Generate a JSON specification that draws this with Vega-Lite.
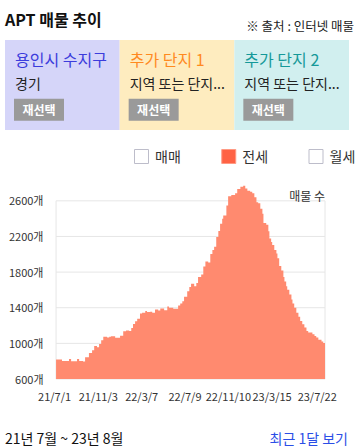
{
  "$schema": "https://vega.github.io/schema/vega-lite/v6.json",
  "padding": {"left": 5, "right": 0, "top": 0, "bottom": 0},
  "background": "white",
  "spacing": 0,
  "bounds": "flush",
  "config": {"font": "Noto Sans CJK KR", "view": {"stroke": null}, "axis": {"labelOverlap": false, "labelBound": false, "labelFlush": false}},
  "vconcat": [
    {
      "width": 349,
      "height": 40,
      "layer": [
        {
          "data": {"values": [{"pos": "left", "label": "APT 매물 추이"}]},
          "mark": {"type": "text", "align": "left", "baseline": "middle", "fontSize": 16, "fontWeight": "bold", "dy": 1, "color": "#111"},
          "encoding": {
            "x": {"field": "pos", "type": "nominal", "scale": {"type": "point", "domain": ["left", "right"], "padding": 0}, "axis": null},
            "text": {"field": "label"}
          }
        },
        {
          "data": {"values": [{"pos": "right", "label": "※ 출처 : 인터넷 매물"}]},
          "mark": {"type": "text", "align": "right", "baseline": "middle", "fontSize": 12.5, "dy": 6.5, "color": "#222"},
          "encoding": {
            "x": {"field": "pos", "type": "nominal", "scale": {"type": "point", "domain": ["left", "right"], "padding": 0}, "axis": null},
            "text": {"field": "label"}
          }
        }
      ]
    },
    {
      "width": 344,
      "height": 90,
      "data": {"values": [
        {"box": "용인시 수지구", "region": "경기"},
        {"box": "추가 단지 1", "region": "지역 또는 단지..."},
        {"box": "추가 단지 2", "region": "지역 또는 단지..."}
      ]},
      "layer": [
        {
          "mark": {"type": "rect"},
          "encoding": {
            "x": {"field": "box", "type": "nominal", "sort": null, "scale": {"type": "band", "paddingInner": 0, "paddingOuter": 0}, "axis": null},
            "color": {"field": "box", "type": "nominal", "sort": null, "scale": {"range": ["#d5d5f9", "#feecbf", "#d1efef"]}, "legend": null}
          }
        },
        {
          "mark": {"type": "text", "align": "left", "baseline": "middle", "dx": 10, "dy": 1, "fontSize": 16},
          "encoding": {
            "x": {"field": "box", "type": "nominal", "sort": null, "bandPosition": 0, "axis": null},
            "y": {"datum": "name", "type": "ordinal", "scale": {"type": "point", "domain": ["name", "region", "btn"], "padding": 0.818}, "axis": null},
            "text": {"field": "box"},
            "color": {"field": "box", "type": "nominal", "sort": null, "scale": {"range": ["#3c3cdc", "#ff8a1f", "#159999"]}, "legend": null}
          }
        },
        {
          "mark": {"type": "text", "align": "left", "baseline": "middle", "dx": 10, "dy": 0, "fontSize": 14, "color": "#222"},
          "encoding": {
            "x": {"field": "box", "type": "nominal", "sort": null, "bandPosition": 0, "axis": null},
            "y": {"datum": "region", "type": "ordinal", "axis": null},
            "text": {"field": "region"}
          }
        },
        {
          "mark": {"type": "point", "shape": "M-1,-0.44H1V0.44H-1Z", "filled": true, "size": 2500, "opacity": 1, "color": "#9a9a9a", "xOffset": 34},
          "encoding": {
            "x": {"field": "box", "type": "nominal", "sort": null, "bandPosition": 0, "axis": null},
            "y": {"datum": "btn", "type": "ordinal", "axis": null}
          }
        },
        {
          "mark": {"type": "text", "align": "center", "baseline": "middle", "dx": 34, "dy": 1, "fontSize": 12, "fontWeight": "bold", "color": "white"},
          "encoding": {
            "x": {"field": "box", "type": "nominal", "sort": null, "bandPosition": 0, "axis": null},
            "y": {"datum": "btn", "type": "ordinal", "axis": null},
            "text": {"value": "재선택"}
          }
        }
      ],
      "resolve": {"scale": {"color": "independent"}}
    },
    {
      "width": 349,
      "height": 53,
      "data": {"values": [{"kind": "매매"}, {"kind": "전세"}, {"kind": "월세"}]},
      "layer": [
        {
          "mark": {"type": "point", "shape": "square", "filled": true, "size": 196, "strokeWidth": 1, "opacity": 1},
          "encoding": {
            "x": {"field": "kind", "type": "nominal", "sort": null, "scale": {"type": "point", "padding": 1.983, "align": 0.7823}, "axis": null},
            "fill": {"field": "kind", "type": "nominal", "sort": null, "scale": {"range": ["#ffffff", "#ff6244", "#ffffff"]}, "legend": null},
            "stroke": {"field": "kind", "type": "nominal", "sort": null, "scale": {"range": ["#bdbdca", "#ff9a84", "#bdbdca"]}, "legend": null}
          }
        },
        {
          "mark": {"type": "text", "align": "left", "baseline": "middle", "dx": 13.5, "dy": 1, "fontSize": 14, "color": "#333"},
          "encoding": {
            "x": {"field": "kind", "type": "nominal", "sort": null, "axis": null},
            "text": {"field": "kind"}
          }
        }
      ]
    },
    {
      "width": 320,
      "height": 196,
      "encoding": {
        "x": {"type": "temporal",
          "scale": {"type": "utc", "domain": [{"year": 2021, "month": 2, "date": 5, "utc": true}, {"year": 2023, "month": 8, "date": 9, "utc": true}]},
          "axis": {"values": [
            {"year": 2021, "month": 7, "date": 1, "utc": true},
            {"year": 2021, "month": 11, "date": 3, "utc": true},
            {"year": 2022, "month": 3, "date": 7, "utc": true},
            {"year": 2022, "month": 7, "date": 9, "utc": true},
            {"year": 2022, "month": 11, "date": 10, "utc": true},
            {"year": 2023, "month": 3, "date": 15, "utc": true},
            {"year": 2023, "month": 7, "date": 22, "utc": true}
          ], "format": "%y/%-m/%-d", "ticks": false, "domain": false, "grid": false, "labelPadding": 12, "labelOffset": -2, "labelFontSize": 11, "labelColor": "#333", "title": null, "labelOverlap": false, "labelFlush": false, "labelBound": false}},
        "y": {"type": "quantitative", "scale": {"domain": [600, 2800], "nice": false, "zero": false},
          "axis": {"values": [600, 1000, 1400, 1800, 2200, 2600], "labelExpr": "datum.value + '개'", "offset": -51, "ticks": false, "domain": false, "grid": false, "labelPadding": 13, "labelOffset": 1, "labelFontSize": 11, "labelColor": "#333", "title": null, "labelOverlap": false, "labelBound": false, "labelFlush": false}}
      },
      "layer": [
        {
          "data": {"values": [{"tick": 600}, {"tick": 1000}, {"tick": 1400}, {"tick": 1800}, {"tick": 2200}, {"tick": 2600}]},
          "mark": {"type": "rule", "color": "#e6e6e6", "strokeWidth": 1},
          "encoding": {
            "y": {"field": "tick", "type": "quantitative"},
            "x": {"datum": {"year": 2021, "month": 7, "date": 1, "utc": true}, "type": "temporal"},
            "x2": {"datum": {"year": 2023, "month": 8, "date": 9, "utc": true}}
          }
        },
        {
          "data": {"values": [{"edge": "2021-07-01"}, {"edge": "2023-08-09"}]},
          "mark": {"type": "rule", "color": "#e6e6e6", "strokeWidth": 1},
          "encoding": {
            "x": {"field": "edge", "type": "temporal"},
            "y": {"datum": 600, "type": "quantitative"},
            "y2": {"datum": 2600}
          }
        },
        {
          "data": {"values": [
            {"date": "2021-07-01", "value": 820},
            {"date": "2021-07-18", "value": 803},
            {"date": "2021-08-07", "value": 825},
            {"date": "2021-08-13", "value": 800},
            {"date": "2021-08-30", "value": 825},
            {"date": "2021-09-05", "value": 803},
            {"date": "2021-09-16", "value": 796},
            {"date": "2021-09-22", "value": 845},
            {"date": "2021-10-03", "value": 892},
            {"date": "2021-10-12", "value": 922},
            {"date": "2021-10-18", "value": 970},
            {"date": "2021-10-26", "value": 955},
            {"date": "2021-11-01", "value": 992},
            {"date": "2021-11-07", "value": 1036},
            {"date": "2021-11-13", "value": 1073},
            {"date": "2021-11-24", "value": 1066},
            {"date": "2021-11-30", "value": 1073},
            {"date": "2021-12-05", "value": 1081},
            {"date": "2021-12-17", "value": 1062},
            {"date": "2021-12-31", "value": 1085},
            {"date": "2022-01-09", "value": 1137},
            {"date": "2022-01-17", "value": 1144},
            {"date": "2022-01-26", "value": 1140},
            {"date": "2022-02-01", "value": 1173},
            {"date": "2022-02-06", "value": 1218},
            {"date": "2022-02-12", "value": 1248},
            {"date": "2022-02-18", "value": 1277},
            {"date": "2022-02-26", "value": 1336},
            {"date": "2022-03-04", "value": 1344},
            {"date": "2022-03-13", "value": 1362},
            {"date": "2022-03-18", "value": 1351},
            {"date": "2022-03-27", "value": 1355},
            {"date": "2022-04-02", "value": 1344},
            {"date": "2022-04-10", "value": 1381},
            {"date": "2022-04-19", "value": 1370},
            {"date": "2022-04-25", "value": 1392},
            {"date": "2022-05-06", "value": 1373},
            {"date": "2022-05-15", "value": 1414},
            {"date": "2022-05-20", "value": 1400},
            {"date": "2022-06-01", "value": 1388},
            {"date": "2022-06-15", "value": 1425},
            {"date": "2022-06-21", "value": 1448},
            {"date": "2022-06-27", "value": 1473},
            {"date": "2022-07-02", "value": 1522},
            {"date": "2022-07-11", "value": 1584},
            {"date": "2022-07-17", "value": 1633},
            {"date": "2022-07-22", "value": 1670},
            {"date": "2022-07-31", "value": 1640},
            {"date": "2022-08-06", "value": 1677},
            {"date": "2022-08-11", "value": 1744},
            {"date": "2022-08-20", "value": 1773},
            {"date": "2022-08-26", "value": 1862},
            {"date": "2022-09-01", "value": 1918},
            {"date": "2022-09-09", "value": 1907},
            {"date": "2022-09-15", "value": 2003},
            {"date": "2022-09-21", "value": 2047},
            {"date": "2022-09-26", "value": 2084},
            {"date": "2022-10-02", "value": 2195},
            {"date": "2022-10-08", "value": 2261},
            {"date": "2022-10-13", "value": 2343},
            {"date": "2022-10-19", "value": 2399},
            {"date": "2022-10-22", "value": 2436},
            {"date": "2022-10-31", "value": 2547},
            {"date": "2022-11-05", "value": 2650},
            {"date": "2022-11-14", "value": 2666},
            {"date": "2022-11-25", "value": 2684},
            {"date": "2022-12-01", "value": 2733},
            {"date": "2022-12-10", "value": 2758},
            {"date": "2022-12-18", "value": 2770},
            {"date": "2022-12-24", "value": 2739},
            {"date": "2022-12-30", "value": 2713},
            {"date": "2023-01-07", "value": 2702},
            {"date": "2023-01-13", "value": 2684},
            {"date": "2023-01-19", "value": 2639},
            {"date": "2023-01-25", "value": 2583},
            {"date": "2023-01-30", "value": 2572},
            {"date": "2023-02-05", "value": 2510},
            {"date": "2023-02-11", "value": 2455},
            {"date": "2023-02-14", "value": 2350},
            {"date": "2023-02-22", "value": 2332},
            {"date": "2023-02-28", "value": 2258},
            {"date": "2023-03-03", "value": 2177},
            {"date": "2023-03-08", "value": 2139},
            {"date": "2023-03-11", "value": 2103},
            {"date": "2023-03-17", "value": 2047},
            {"date": "2023-03-23", "value": 2010},
            {"date": "2023-03-26", "value": 1955},
            {"date": "2023-03-31", "value": 1869},
            {"date": "2023-04-06", "value": 1817},
            {"date": "2023-04-12", "value": 1744},
            {"date": "2023-04-15", "value": 1695},
            {"date": "2023-04-20", "value": 1640},
            {"date": "2023-04-23", "value": 1603},
            {"date": "2023-04-29", "value": 1548},
            {"date": "2023-05-05", "value": 1492},
            {"date": "2023-05-08", "value": 1448},
            {"date": "2023-05-13", "value": 1400},
            {"date": "2023-05-19", "value": 1344},
            {"date": "2023-05-25", "value": 1300},
            {"date": "2023-05-30", "value": 1251},
            {"date": "2023-06-05", "value": 1214},
            {"date": "2023-06-11", "value": 1177},
            {"date": "2023-06-17", "value": 1140},
            {"date": "2023-06-22", "value": 1122},
            {"date": "2023-07-04", "value": 1103},
            {"date": "2023-07-10", "value": 1084},
            {"date": "2023-07-15", "value": 1066},
            {"date": "2023-07-21", "value": 1040},
            {"date": "2023-07-30", "value": 1022},
            {"date": "2023-08-04", "value": 1003},
            {"date": "2023-08-09", "value": 1003}
          ]},
          "mark": {"type": "area", "interpolate": "step-after", "color": "#ff8a6f", "opacity": 1},
          "encoding": {
            "x": {"field": "date", "type": "temporal"},
            "y": {"field": "value", "type": "quantitative"},
            "y2": {"datum": 600}
          }
        },
        {
          "data": {"values": [{"t": "매물 수"}]},
          "mark": {"type": "text", "align": "right", "baseline": "middle", "fontSize": 12, "dy": 1, "color": "#333"},
          "encoding": {
            "x": {"datum": {"year": 2023, "month": 8, "date": 9, "utc": true}, "type": "temporal"},
            "y": {"datum": 2654, "type": "quantitative"},
            "text": {"field": "t"}
          }
        }
      ]
    },
    {
      "width": 343,
      "height": 68,
      "layer": [
        {
          "data": {"values": [{"pos": "left", "label": "21년 7월 ~ 23년 8월"}]},
          "mark": {"type": "text", "align": "left", "baseline": "middle", "fontSize": 14, "dy": 27, "color": "#111"},
          "encoding": {
            "x": {"field": "pos", "type": "nominal", "scale": {"type": "point", "domain": ["left", "right"], "padding": 0}, "axis": null},
            "text": {"field": "label"}
          }
        },
        {
          "data": {"values": [{"pos": "right", "label": "최근 1달 보기"}]},
          "mark": {"type": "text", "align": "right", "baseline": "middle", "fontSize": 14, "dy": 27, "color": "#2b4ee6"},
          "encoding": {
            "x": {"field": "pos", "type": "nominal", "scale": {"type": "point", "domain": ["left", "right"], "padding": 0}, "axis": null},
            "text": {"field": "label"}
          }
        }
      ]
    }
  ]
}
